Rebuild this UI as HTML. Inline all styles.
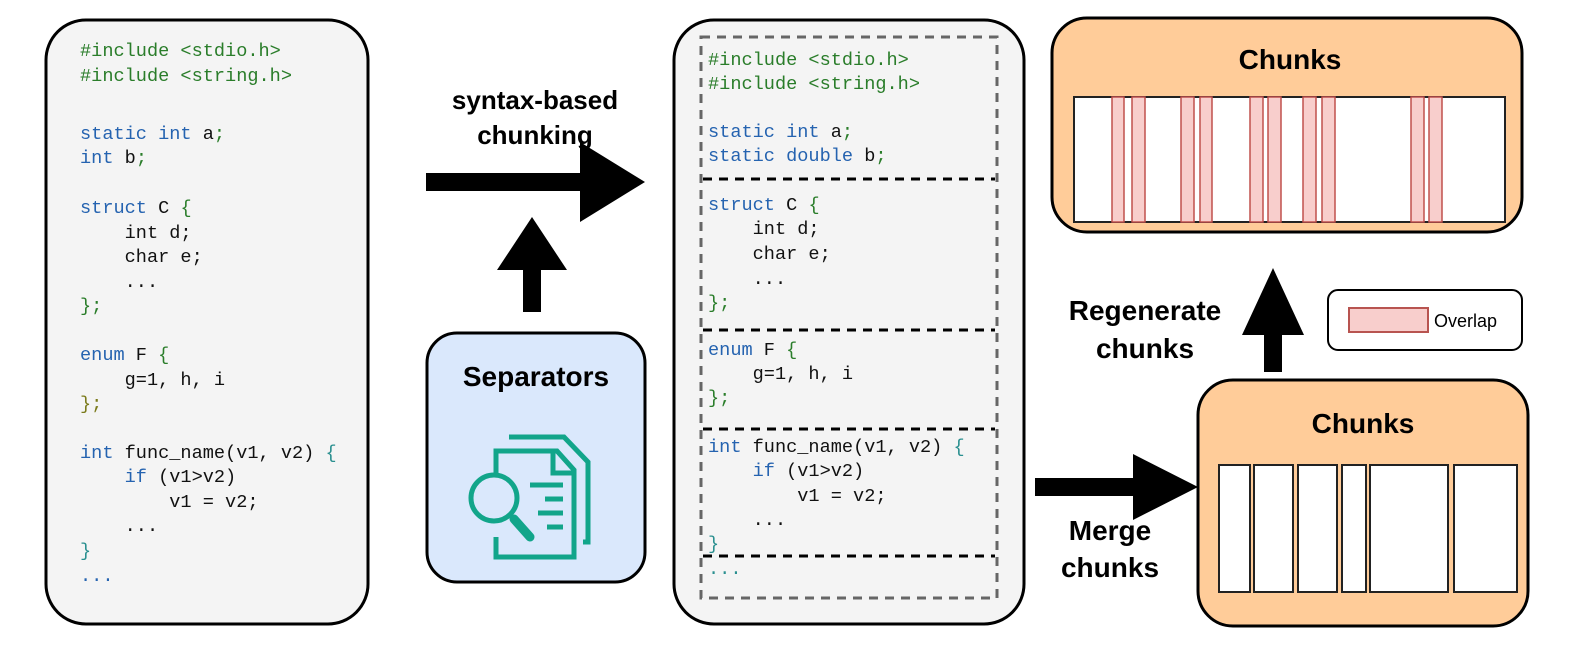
<!DOCTYPE html>
<html><head><meta charset="utf-8"><style>
html,body{margin:0;padding:0;background:#fff;}
svg{display:block;}
.c{font-family:"Liberation Mono",monospace;font-size:18.6px;}
.g{fill:#2a7d2a}.b{fill:#2563b0}.k{fill:#111}.t{fill:#2a8f8f}
.h{font-family:"Liberation Sans",sans-serif;font-weight:bold;fill:#000;text-anchor:middle;}
</style></head><body>
<svg width="1578" height="652" viewBox="0 0 1578 652" xmlns="http://www.w3.org/2000/svg">
<rect x="46" y="20" width="322" height="604" rx="40" fill="#f4f4f4" stroke="#000" stroke-width="3"/>
<g class="c" dominant-baseline="middle">
<text x="80" y="51" class="g">#include &lt;stdio.h&gt;</text>
<text x="80" y="76" class="g">#include &lt;string.h&gt;</text>
<text x="80" y="134"><tspan class="b">static int </tspan><tspan class="k">a</tspan><tspan class="g">;</tspan></text>
<text x="80" y="158"><tspan class="b">int </tspan><tspan class="k">b</tspan><tspan class="g">;</tspan></text>
<text x="80" y="208"><tspan class="b">struct </tspan><tspan class="k">C </tspan><tspan class="g">{</tspan></text>
<text x="80" y="233" class="k" xml:space="preserve">    int d;</text>
<text x="80" y="257" class="k" xml:space="preserve">    char e;</text>
<text x="80" y="282" class="k" xml:space="preserve">    ...</text>
<text x="80" y="306" class="g">};</text>
<text x="80" y="355"><tspan class="b">enum </tspan><tspan class="k">F </tspan><tspan class="g">{</tspan></text>
<text x="80" y="380" class="k" xml:space="preserve">    g=1, h, i</text>
<text x="80" y="404" fill="#7a7a1a">};</text>
<text x="80" y="453"><tspan class="b">int </tspan><tspan class="k">func_name(v1, v2) </tspan><tspan class="t">{</tspan></text>
<text x="80" y="477" xml:space="preserve"><tspan class="b">    if </tspan><tspan class="k">(v1&gt;v2)</tspan></text>
<text x="80" y="502" class="k" xml:space="preserve">        v1 = v2;</text>
<text x="80" y="526" class="k" xml:space="preserve">    ...</text>
<text x="80" y="551" class="t">}</text>
<text x="80" y="576" class="b">...</text>
</g>

<text x="535" y="109" class="h" font-size="26">syntax-based</text>
<text x="535" y="144" class="h" font-size="26">chunking</text>
<polygon points="426,173 580,173 580,142 645,182 580,222 580,191 426,191" fill="#000"/>
<polygon points="523,312 541,312 541,270 567,270 532,217 497,270 523,270" fill="#000"/>

<rect x="427" y="333" width="218" height="249" rx="30" fill="#dae8fc" stroke="#000" stroke-width="3"/>
<text x="536" y="386" class="h" font-size="28">Separators</text>
<g fill="none" stroke="#12a58a" stroke-width="5">
<polyline points="509,437 564,437 588,462 588,542 583,542"/>
<polyline points="496,474 496,451 557,451 574,470 574,557 496,557 496,537"/>
<polyline points="553,453 553,473 574,473"/>
<circle cx="494" cy="498" r="23"/>
<line x1="530" y1="485" x2="563" y2="485"/>
<line x1="545" y1="499" x2="563" y2="499"/>
<line x1="538" y1="513" x2="563" y2="513"/>
<line x1="547" y1="527" x2="563" y2="527"/>
<line x1="514" y1="519" x2="530" y2="537" stroke-width="9" stroke-linecap="round"/>
</g>

<rect x="674" y="20" width="350" height="604" rx="40" fill="#f4f4f4" stroke="#000" stroke-width="3"/>
<rect x="701" y="37" width="296" height="561" fill="none" stroke="#666" stroke-width="3" stroke-dasharray="9,7"/>
<g stroke="#000" stroke-width="3" stroke-dasharray="9,7">
<line x1="703" y1="179" x2="995" y2="179"/>
<line x1="703" y1="330" x2="995" y2="330"/>
<line x1="703" y1="429" x2="995" y2="429"/>
<line x1="703" y1="556" x2="995" y2="556"/>
</g>
<g class="c" dominant-baseline="middle">
<text x="708" y="60" class="g">#include &lt;stdio.h&gt;</text>
<text x="708" y="84" class="g">#include &lt;string.h&gt;</text>
<text x="708" y="132"><tspan class="b">static int </tspan><tspan class="k">a</tspan><tspan class="g">;</tspan></text>
<text x="708" y="156"><tspan class="b">static double </tspan><tspan class="k">b</tspan><tspan class="g">;</tspan></text>
<text x="708" y="205"><tspan class="b">struct </tspan><tspan class="k">C </tspan><tspan class="g">{</tspan></text>
<text x="708" y="229" class="k" xml:space="preserve">    int d;</text>
<text x="708" y="254" class="k" xml:space="preserve">    char e;</text>
<text x="708" y="279" class="k" xml:space="preserve">    ...</text>
<text x="708" y="303" class="g">};</text>
<text x="708" y="350"><tspan class="b">enum </tspan><tspan class="k">F </tspan><tspan class="g">{</tspan></text>
<text x="708" y="374" class="k" xml:space="preserve">    g=1, h, i</text>
<text x="708" y="398" class="g">};</text>
<text x="708" y="447"><tspan class="b">int </tspan><tspan class="k">func_name(v1, v2) </tspan><tspan class="t">{</tspan></text>
<text x="708" y="471" xml:space="preserve"><tspan class="b">    if </tspan><tspan class="k">(v1&gt;v2)</tspan></text>
<text x="708" y="496" class="k" xml:space="preserve">        v1 = v2;</text>
<text x="708" y="520" class="k" xml:space="preserve">    ...</text>
<text x="708" y="544" class="t">}</text>
<text x="708" y="569" class="t">...</text>
</g>

<polygon points="1035,478 1133,478 1133,454 1198,487 1133,520 1133,496 1035,496" fill="#000"/>
<text x="1110" y="540" class="h" font-size="28">Merge</text>
<text x="1110" y="577" class="h" font-size="28">chunks</text>

<rect x="1198" y="380" width="330" height="246" rx="35" fill="#ffcc99" stroke="#000" stroke-width="3"/>
<text x="1363" y="433" class="h" font-size="28">Chunks</text>
<g fill="#fff" stroke="#222" stroke-width="2">
<rect x="1219" y="465" width="31" height="127"/>
<rect x="1254" y="465" width="39" height="127"/>
<rect x="1298" y="465" width="39" height="127"/>
<rect x="1342" y="465" width="24" height="127"/>
<rect x="1370" y="465" width="78" height="127"/>
<rect x="1454" y="465" width="63" height="127"/>
</g>

<polygon points="1264,372 1282,372 1282,335 1304,335 1273,268 1242,335 1264,335" fill="#000"/>
<text x="1145" y="320" class="h" font-size="28">Regenerate</text>
<text x="1145" y="358" class="h" font-size="28">chunks</text>

<rect x="1328" y="290" width="194" height="60" rx="10" fill="#fff" stroke="#000" stroke-width="2"/>
<rect x="1349" y="308" width="79" height="24" fill="#f8cecc" stroke="#b85450" stroke-width="2"/>
<text x="1434" y="327" font-family="Liberation Sans,sans-serif" font-size="18" fill="#000">Overlap</text>

<rect x="1052" y="18" width="470" height="214" rx="35" fill="#ffcc99" stroke="#000" stroke-width="3"/>
<text x="1290" y="69" class="h" font-size="28">Chunks</text>
<rect x="1074" y="97" width="431" height="125" fill="#fff" stroke="#222" stroke-width="2"/>
<g fill="#f8cecc" stroke="#c0504d" stroke-width="1.5">
<rect x="1112" y="97" width="12" height="125"/>
<rect x="1132" y="97" width="13" height="125"/>
<rect x="1181" y="97" width="13" height="125"/>
<rect x="1200" y="97" width="12" height="125"/>
<rect x="1250" y="97" width="13" height="125"/>
<rect x="1268" y="97" width="13" height="125"/>
<rect x="1303" y="97" width="13" height="125"/>
<rect x="1322" y="97" width="13" height="125"/>
<rect x="1411" y="97" width="13" height="125"/>
<rect x="1429" y="97" width="13" height="125"/>
</g>
</svg>
</body></html>
